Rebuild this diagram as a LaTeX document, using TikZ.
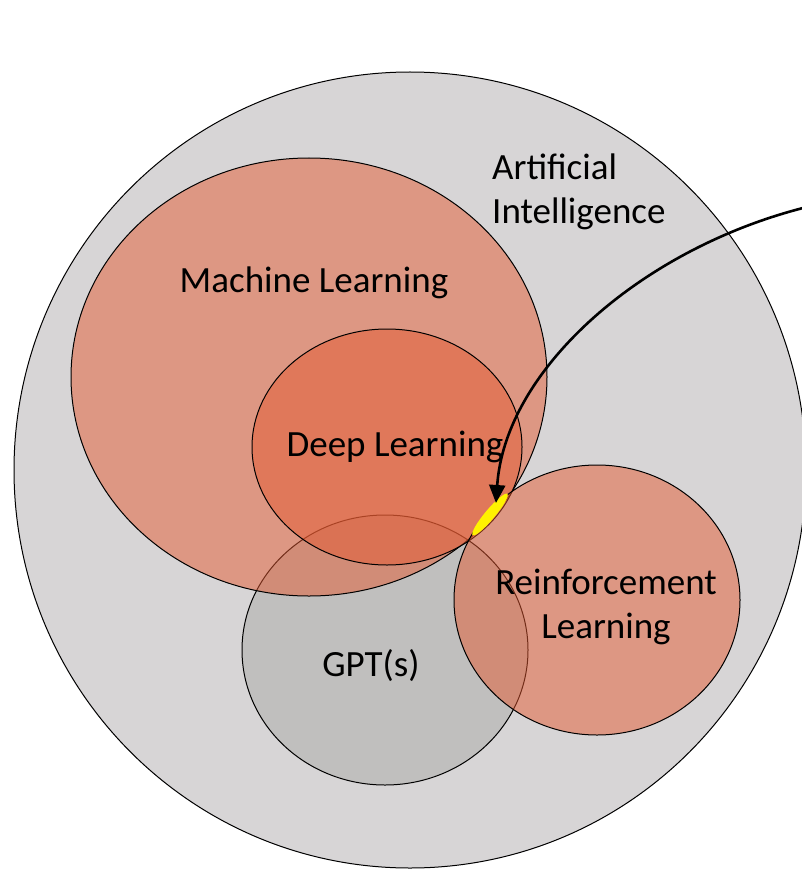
\documentclass[tikz,border=0pt]{standalone}
\usepackage{fontspec}
\setmainfont{Carlito}
\usetikzlibrary{arrows.meta}
\definecolor{aigray}{RGB}{215,213,214}
\definecolor{gptgray}{RGB}{192,191,190}
\definecolor{setorange}{RGB}{227,90,50}
\begin{document}
\begin{tikzpicture}[x=1pt,y=-1pt,
  lbl/.style={font=\fontsize{37}{44}\selectfont, inner sep=0pt, align=center, text=black},
  setline/.style={draw=black, line width=1pt},
  orangeset/.style={setline, fill=setorange, fill opacity=0.5},
  pointer/.style={draw=black, line width=2.6pt, -{Triangle[length=18pt,width=16pt]}}]
\useasboundingbox (0,0) rectangle (802,869);
\begin{scope}
\clip (0,0) rectangle (802,869);
% Artificial Intelligence
\path[setline, fill=aigray] (410,470) ellipse [x radius=396, y radius=398];
% GPT(s)
\path[setline, fill=gptgray] (385,650) ellipse [x radius=143, y radius=135];
% Machine Learning
\path[orangeset] (309,377) ellipse [x radius=238, y radius=219];
% Deep Learning
\path[orangeset] (387,447) ellipse [x radius=135, y radius=118];
% Reinforcement Learning
\path[orangeset] (597,600) ellipse [x radius=143, y radius=135];
% highlighted spot
\fill[yellow, rotate around={50:(490,514.5)}] (490,514.5) ellipse [x radius=27, y radius=5];
\end{scope}
\node[lbl, align=left, anchor=north west] (ai) at (492,154) {Artificial\\Intelligence};
\node[lbl, anchor=base] (ml) at (314,292) {Machine Learning};
\node[lbl, anchor=base] (dl) at (395,456) {Deep Learning};
\node[lbl] (rl) at (606,607) {Reinforcement\\Learning};
\node[lbl, anchor=base] (gpt) at (371,676) {GPT(s)};
\coordinate (src) at (803,208);
\coordinate (tip) at (496,503);
\draw[pointer] (src) .. controls (640,250) and (505,370) .. (tip);
\end{tikzpicture}
\end{document}
